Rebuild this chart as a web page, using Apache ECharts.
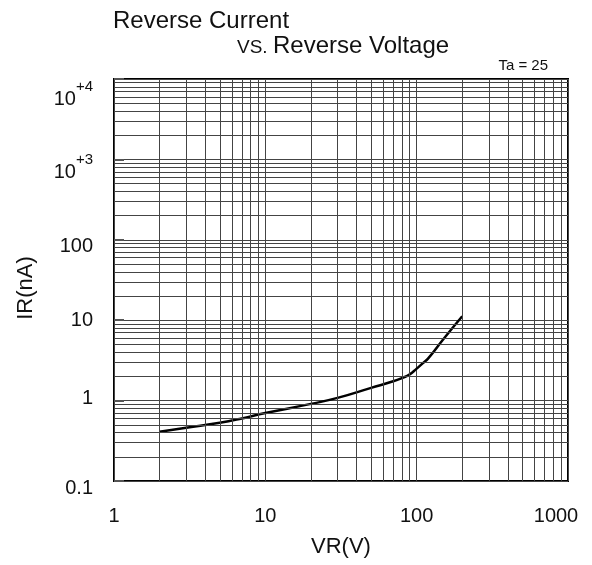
<!DOCTYPE html>
<html>
<head>
<meta charset="utf-8">
<script src="https://cdn.jsdelivr.net/npm/echarts@6/dist/echarts.min.js"></script>
<style>html,body{margin:0;padding:0;background:#fff}#c{width:592px;height:565px}</style>
</head>
<body>
<div id="c"></div>
<script>
// Data
const vr = [2, 3, 5, 7, 10, 20, 30, 50, 70, 80, 90, 100, 110, 120, 150, 200];
const ir = [0.41, 0.46, 0.53, 0.60, 0.70, 0.91, 1.08, 1.44, 1.74, 1.91, 2.12, 2.5, 2.92, 3.4, 5.8, 11.2];
const xTickLabels = ['1', '10', '100', '1000'];
const yTickLabels = ['0.1', '1', '10', '100', '10^+3', '10^+4'];
const xDecades = [1, 10, 100];
const yDecades = [0.1, 1, 10, 100, 1000];
const minorSteps = [2, 3, 4, 5, 6, 7, 8, 9];

const FONT = 'Liberation Sans, Arial, sans-serif';
// style: vertical nudge (px, + = down) of each y tick label, as in the reference
const yNudge = [2, -7, -5, 2, 8, 15];

const minorX = [];
xDecades.forEach(d => minorSteps.forEach(m => minorX.push({ xAxis: m * d })));
const minorY = [];
yDecades.forEach(d => minorSteps.forEach(m => minorY.push({ yAxis: m * d })));

const yRich = {
  b: { fontFamily: FONT, fontSize: 20, color: '#111', lineHeight: 30, verticalAlign: 'bottom' },
  s: { fontFamily: FONT, fontSize: 15, color: '#111', lineHeight: 15, verticalAlign: 'top' }
};
yNudge.forEach((n, i) => {
  yRich['sp' + i] = { fontSize: 1, lineHeight: Math.max(1, Math.abs(n) * 2), height: Math.max(1, Math.abs(n) * 2) };
});

function yFmt(v) {
  const e = Math.round(Math.log10(v));
  const idx = e + 1;
  const t = yTickLabels[idx];
  if (!t) return '';
  let body;
  if (t.indexOf('^') >= 0) {
    const p = t.split('^');
    body = '{b|' + p[0] + '}{s|' + p[1] + '}';
  } else {
    body = '{b|' + t + '}';
  }
  const n = yNudge[idx] || 0;
  if (n > 0) return '{sp' + idx + '| }\n' + body;
  if (n < 0) return body + '\n{sp' + idx + '| }';
  return body;
}
function xFmt(v) {
  const e = Math.round(Math.log10(v));
  const t = xTickLabels[e] || '';
  if (e === 3) return '{last|' + t + '}';
  return '{b|' + t + '}';
}

const chart = echarts.init(document.getElementById('c'), null, { renderer: 'canvas' });
chart.setOption({
  animation: false,
  backgroundColor: '#fff',
  textStyle: { fontFamily: FONT },
  title: [
    { text: 'Reverse Current', left: 113, top: 9, padding: 0,
      textStyle: { fontFamily: FONT, fontSize: 24, fontWeight: 'normal', color: '#111' } },
    { text: 'VS.', left: 237, top: 38, padding: 0,
      textStyle: { fontFamily: FONT, fontSize: 19, fontWeight: 'normal', color: '#111' } },
    { text: 'Reverse Voltage', left: 273, top: 34, padding: 0,
      textStyle: { fontFamily: FONT, fontSize: 24, fontWeight: 'normal', color: '#111' } },
    { text: 'Ta = 25', right: 44, top: 58, padding: 0,
      textStyle: { fontFamily: FONT, fontSize: 15, fontWeight: 'normal', color: '#111' } }
  ],
  grid: { left: 114, right: 24, top: 79, bottom: 84, show: true, borderColor: '#000', borderWidth: 2, backgroundColor: 'transparent' },
  xAxis: {
    type: 'log', logBase: 10, min: 1, max: 1000,
    name: 'VR(V)', nameLocation: 'middle', nameGap: 55,
    nameTextStyle: { fontFamily: FONT, fontSize: 22, color: '#111' },
    axisLine: { show: false },
    axisTick: { show: false },
    splitLine: { show: true, lineStyle: { color: '#444', width: 1 } },
    axisLabel: { margin: 25, formatter: xFmt, color: '#111',
      rich: { b: { fontFamily: FONT, fontSize: 20, color: '#111' },
              last: { fontFamily: FONT, fontSize: 20, color: '#111', padding: [0, 24, 0, 0] } } }
  },
  yAxis: {
    type: 'log', logBase: 10, min: 0.1, max: 10000,
    name: 'IR(nA)', nameLocation: 'middle', nameGap: 77, nameRotate: 90,
    nameTextStyle: { fontFamily: FONT, fontSize: 22, color: '#111', padding: [0, 16, 0, 0] },
    axisLine: { show: false },
    axisTick: { show: true, inside: true, length: 10, lineStyle: { color: '#555', width: 2 } },
    splitLine: { show: true, lineStyle: { color: '#444', width: 1 } },
    axisLabel: { margin: 21, formatter: yFmt, color: '#111', rich: yRich }
  },
  series: [
    {
      type: 'line', data: [], silent: true,
      markLine: { silent: true, symbol: 'none', label: { show: false },
        lineStyle: { color: '#444', width: 1, type: 'solid' },
        data: minorX.concat(minorY) }
    },
    {
      type: 'line', data: vr.map((x, i) => [x, ir[i]]),
      smooth: 0.5, showSymbol: false, symbol: 'none',
      lineStyle: { color: '#000', width: 2.5 }
    }
  ]
});
</script>
</body>
</html>
